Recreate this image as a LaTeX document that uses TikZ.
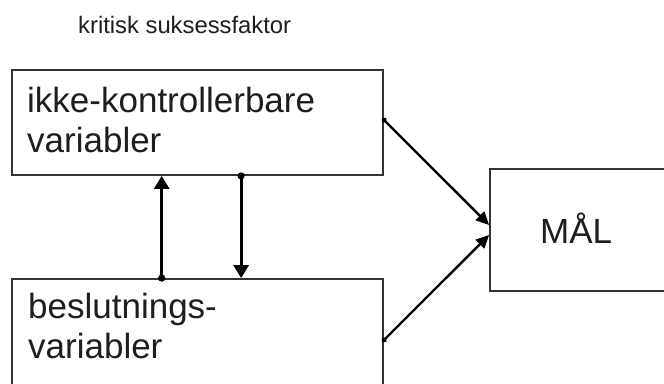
\documentclass[tikz,border=0pt]{standalone}
\usepackage{fontspec}
\setmainfont{Liberation Sans}
\usetikzlibrary{arrows.meta,calc}
\definecolor{boxline}{HTML}{333333}
\definecolor{txt}{HTML}{1E1E1E}
\tikzset{
  varbox/.style={draw=boxline, line width=1.8pt, rectangle, inner sep=0pt},
  bigtext/.style={anchor=base west, inner sep=0pt, text=txt, font=\fontsize{35}{40}\selectfont},
  titletext/.style={anchor=base west, inner sep=0pt, text=txt, font=\fontsize{23.8}{28}\selectfont},
  vlink/.style={line width=3pt, black, shorten <=-3.5pt,
    {Circle[length=7pt]}-{Triangle[length=13pt,width=15pt]}},
  dlink/.style={line width=2.4pt, black, shorten <=-2.5pt,
    {Circle[length=5.5pt]}-{Triangle[length=13pt,width=12pt]}}
}
\begin{document}
\begin{tikzpicture}[x=1pt,y=-1pt]
\useasboundingbox[fill=white] (0,0) rectangle (664,383);
\node[titletext] (title) at (78,33) {kritisk suksessfaktor};
\node[varbox, minimum width=371pt, minimum height=105pt] (ctrl) at (197.5,122.5) {};
\node[varbox, minimum width=371pt, minimum height=116pt] (dec) at (197.5,337) {};
\node[varbox, minimum width=190pt, minimum height=122pt] (goal) at (585,230) {};
\node[bigtext] (ctrlA) at (27,112) {ikke-kontrollerbare};
\node[bigtext] (ctrlB) at (27,152) {variabler};
\node[bigtext] (decA) at (28,318) {beslutnings-};
\node[bigtext] (decB) at (28,358) {variabler};
\node[bigtext] (goalT) at (540,243) {MÅL};
\draw[vlink] ($(dec.north west)!0.404!(dec.north east)$) -- ($(ctrl.south west)!0.404!(ctrl.south east)$);
\draw[vlink] ($(ctrl.south west)!0.617!(ctrl.south east)$) -- ($(dec.north west)!0.617!(dec.north east)$);
\draw[dlink] ($(ctrl.north east)!0.476!(ctrl.south east)$) -- ($(goal.west)+(0,-5)$);
\draw[dlink] ($(dec.north east)!0.526!(dec.south east)$) -- ($(goal.west)+(0,5)$);
\end{tikzpicture}
\end{document}
